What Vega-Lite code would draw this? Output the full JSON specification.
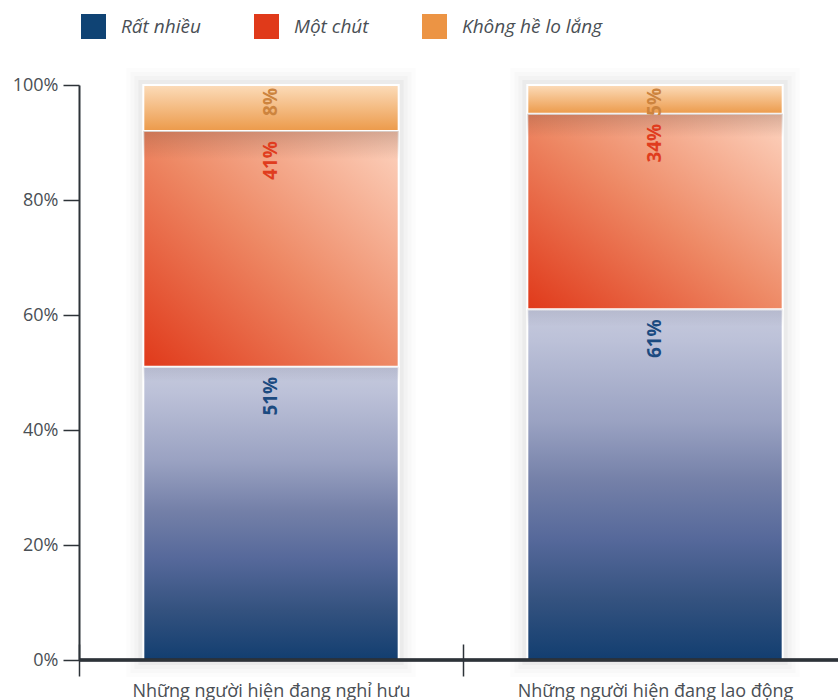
{
  "$schema": "https://vega.github.io/schema/vega-lite/v6.json",
  "autosize": "none",
  "padding": {"left": 79, "top": 85, "right": 0, "bottom": 40},
  "width": 768,
  "height": 575,
  "background": "white",
  "config": {"view": {"stroke": null}, "font": "Open Sans"},
  "data": {"values": [
    {"group": "Những người hiện đang nghỉ hưu", "cat": "Rất nhiều", "v": 0.51, "label": "51%"},
    {"group": "Những người hiện đang nghỉ hưu", "cat": "Một chút", "v": 0.41, "label": "41%"},
    {"group": "Những người hiện đang nghỉ hưu", "cat": "Không hề lo lắng", "v": 0.08, "label": "8%"},
    {"group": "Những người hiện đang lao động", "cat": "Rất nhiều", "v": 0.61, "label": "61%"},
    {"group": "Những người hiện đang lao động", "cat": "Một chút", "v": 0.34, "label": "34%"},
    {"group": "Những người hiện đang lao động", "cat": "Không hề lo lắng", "v": 0.05, "label": "5%"}
  ]},
  "transform": [
    {"stack": "v", "groupby": ["group"], "sort": [{"field": "cat", "order": "descending"}], "as": ["v0", "v1"]}
  ],
  "encoding": {
    "x": {
      "field": "group", "type": "nominal", "sort": null,
      "scale": {"paddingInner": 0, "paddingOuter": 0},
      "axis": {
        "title": null, "labelAngle": 0, "tickBand": "extent", "offset": -16,
        "domain": false, "tickSize": 32, "tickWidth": 1.5, "tickColor": "#2d3338",
        "labelFontSize": 18, "labelColor": "#4a4f55", "labelPadding": 6, "labelFont": "Open Sans", "labelLimit": 0
      }
    }
  },
  "layer": [
    {
      "transform": [{"aggregate": [{"op": "sum", "field": "v", "as": "tot"}], "groupby": ["group"]}],
      "mark": {"type": "bar", "width": {"band": 0.665}, "fill": "#000", "fillOpacity": 0, "stroke": "#000", "strokeOpacity": 0.012, "strokeWidth": 34},
      "encoding": {"y": {"field": "tot", "type": "quantitative"}}
    },
    {
      "transform": [{"aggregate": [{"op": "sum", "field": "v", "as": "tot"}], "groupby": ["group"]}],
      "mark": {"type": "bar", "width": {"band": 0.665}, "fill": "#000", "fillOpacity": 0, "stroke": "#000", "strokeOpacity": 0.015, "strokeWidth": 26},
      "encoding": {"y": {"field": "tot", "type": "quantitative"}}
    },
    {
      "transform": [{"aggregate": [{"op": "sum", "field": "v", "as": "tot"}], "groupby": ["group"]}],
      "mark": {"type": "bar", "width": {"band": 0.665}, "fill": "#000", "fillOpacity": 0, "stroke": "#000", "strokeOpacity": 0.02, "strokeWidth": 18},
      "encoding": {"y": {"field": "tot", "type": "quantitative"}}
    },
    {
      "transform": [{"aggregate": [{"op": "sum", "field": "v", "as": "tot"}], "groupby": ["group"]}],
      "mark": {"type": "bar", "width": {"band": 0.665}, "fill": "#000", "fillOpacity": 0, "stroke": "#000", "strokeOpacity": 0.03, "strokeWidth": 10},
      "encoding": {"y": {"field": "tot", "type": "quantitative"}}
    },
    {
      "mark": {"type": "bar", "width": {"band": 0.665}},
      "encoding": {
        "y": {
          "field": "v1", "type": "quantitative",
          "scale": {"domain": [0, 1], "nice": false},
          "axis": {
            "title": null, "format": "%", "values": [0, 0.2, 0.4, 0.6, 0.8, 1],
            "grid": false, "domainColor": "#2d3338", "domainWidth": 2,
            "tickColor": "#2d3338", "tickSize": 16, "tickWidth": 1.5,
            "labelFontSize": 18, "labelColor": "#4a4f55", "labelPadding": 5, "labelFont": "Open Sans"
          }
        },
        "y2": {"field": "v0"},
        "color": {
          "field": "cat", "type": "nominal",
          "scale": {"domain": ["Rất nhiều", "Một chút", "Không hề lo lắng"], "range": ["#0f4374", "#e03a1a", "#ec9444"]},
          "legend": {
            "title": null, "orient": "none", "legendX": 2, "legendY": -71, "direction": "horizontal",
            "symbolType": "square", "symbolSize": 625, "symbolStrokeWidth": 0, "symbolOpacity": 1,
            "labelFontSize": 19, "labelFontStyle": "italic", "labelColor": "#4a4f55", "labelFont": "Open Sans",
            "labelOffset": 15, "columnPadding": 53
          }
        }
      }
    },
    {
      "mark": {"type": "bar", "width": {"band": 0.665}, "stroke": "white", "strokeWidth": 2},
      "encoding": {
        "y": {"field": "v1", "type": "quantitative"},
        "y2": {"field": "v0"},
        "color": {
          "condition": [
            {"test": "datum.cat === 'Rất nhiều'", "value": {"gradient": "linear", "x1": 0, "y1": 0, "x2": 0, "y2": 1, "stops": [
              {"offset": 0, "color": "#c6cadd"},
              {"offset": 0.09, "color": "#bcc1d8"},
              {"offset": 0.32, "color": "#9aa2c2"},
              {"offset": 0.49, "color": "#7480a8"},
              {"offset": 0.66, "color": "#55689a"},
              {"offset": 0.83, "color": "#34527f"},
              {"offset": 1, "color": "#123e70"}
            ]}},
            {"test": "datum.cat === 'Một chút'", "value": {"gradient": "linear", "x1": 0, "y1": 1, "x2": 1, "y2": 0, "stops": [
              {"offset": 0, "color": "#e0391a"},
              {"offset": 0.5, "color": "#ee8a66"},
              {"offset": 1, "color": "#fdd4c0"}
            ]}}
          ],
          "value": {"gradient": "linear", "x1": 0, "y1": 0, "x2": 0, "y2": 1, "stops": [
            {"offset": 0, "color": "#fcdcba"},
            {"offset": 1, "color": "#ec9a4a"}
          ]}
        }
      }
    },
    {
      "mark": {"type": "bar", "width": {"band": 0.665}, "strokeWidth": 0},
      "encoding": {
        "y": {"field": "v1", "type": "quantitative"},
        "y2": {"field": "v0"},
        "color": {
          "condition": [
            {"test": "datum.cat === 'Một chút'", "value": {"gradient": "linear", "x1": 0, "y1": 0, "x2": 0, "y2": 1, "stops": [
              {"offset": 0, "color": "rgba(110,60,40,0.28)"},
              {"offset": 0.12, "color": "rgba(110,60,40,0.0)"},
              {"offset": 1, "color": "rgba(110,60,40,0.0)"}
            ]}},
            {"test": "datum.cat === 'Rất nhiều'", "value": {"gradient": "linear", "x1": 0, "y1": 0, "x2": 0, "y2": 1, "stops": [
              {"offset": 0, "color": "rgba(60,60,90,0.12)"},
              {"offset": 0.05, "color": "rgba(60,60,90,0.0)"},
              {"offset": 1, "color": "rgba(60,60,90,0.0)"}
            ]}}
          ],
          "value": "transparent"
        }
      }
    },
    {
      "mark": {"type": "rule", "color": "#2d3338", "strokeWidth": 2.5},
      "encoding": {"y": {"datum": 0, "type": "quantitative"}, "x": null}
    },
    {
      "transform": [{"filter": "datum.cat !== 'Không hề lo lắng'"}],
      "mark": {"type": "text", "angle": 270, "align": "right", "baseline": "middle", "dx": -10, "fontSize": 19, "fontWeight": "bold", "font": "Open Sans"},
      "encoding": {
        "y": {"field": "v1", "type": "quantitative"},
        "text": {"field": "label"},
        "color": {
          "condition": [
            {"test": "datum.cat === 'Rất nhiều'", "value": "#1b4a80"}
          ],
          "value": "#e03c1e"
        }
      }
    },
    {
      "transform": [{"filter": "datum.cat === 'Không hề lo lắng'"}],
      "mark": {"type": "text", "angle": 270, "align": "right", "baseline": "middle", "dx": -3, "fontSize": 19, "fontWeight": "bold", "font": "Open Sans", "color": "#cd843e"},
      "encoding": {
        "y": {"field": "v1", "type": "quantitative"},
        "text": {"field": "label"}
      }
    }
  ]
}
